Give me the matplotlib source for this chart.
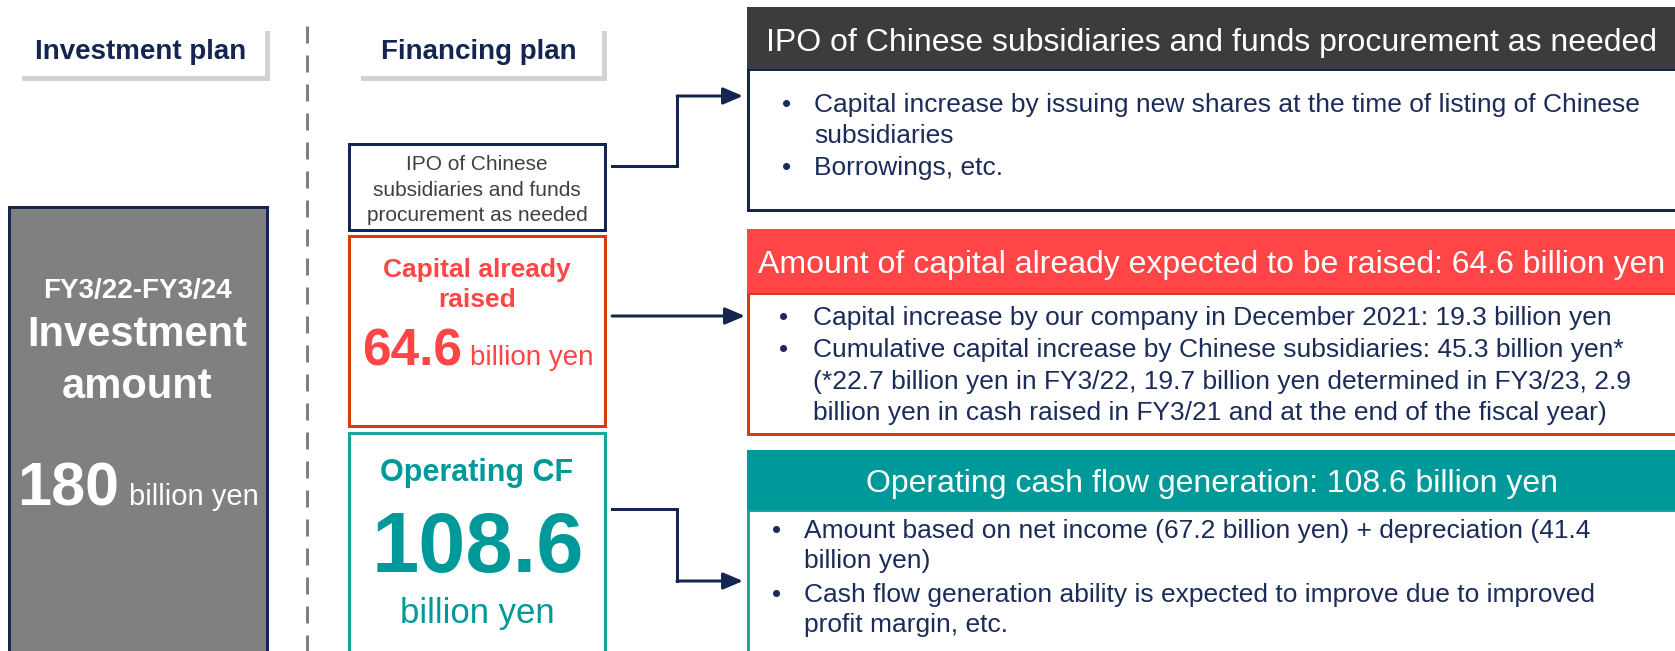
import matplotlib
matplotlib.use("Agg")
import matplotlib.pyplot as plt
from matplotlib.patches import Rectangle

plt.rcParams['font.family'] = ['Liberation Sans', 'DejaVu Sans']
plt.rcParams['lines.scale_dashes'] = False

# Суммы (млрд иен)
investment_total = 180
raised_total = 64.6
op_cf_total = 108.6
period = "FY3/22-FY3/24"

column_titles = ["Investment plan", "Financing plan"]
ipo_small = ["IPO of Chinese", "subsidiaries and funds", "procurement as needed"]
raised_label = ["Capital already", "raised"]
op_label = "Operating CF"

headers = ["IPO of Chinese subsidiaries and funds procurement as needed",
           f"Amount of capital already expected to be raised: {raised_total} billion yen",
           f"Operating cash flow generation: {op_cf_total} billion yen"]

# (текст, есть ли маркер)
ipo_lines = [("Capital increase by issuing new shares at the time of listing of Chinese", True),
             ("subsidiaries", False),
             ("Borrowings, etc.", True)]
raised_lines = [("Capital increase by our company in December 2021: 19.3 billion yen", True),
                ("Cumulative capital increase by Chinese subsidiaries: 45.3 billion yen*", True),
                ("(*22.7 billion yen in FY3/22, 19.7 billion yen determined in FY3/23, 2.9", False),
                ("billion yen in cash raised in FY3/21 and at the end of the fiscal year)", False)]
op_lines = [("Amount based on net income (67.2 billion yen) + depreciation (41.4", True),
            ("billion yen)", False),
            ("Cash flow generation ability is expected to improve due to improved", True),
            ("profit margin, etc.", False)]

navy = '#14254f'
text_navy = '#1c2c5a'
red = '#ff4545'
red_edge = '#d63c10'
teal = '#009999'
teal_edge = '#1aa39f'
dark = '#3c3c3c'
gray = '#808080'

fig = plt.figure(figsize=(16.75, 6.51), dpi=100)
ax = fig.add_axes([0, 0, 1, 1])
ax.set_xlim(0, 1675)
ax.set_ylim(651, 0)
ax.axis('off')
px = 72 / 100  # пиксели -> пункты

# заголовки колонок с тенью
for x0, x1, title in [(17, 265, column_titles[0]), (356, 602, column_titles[1])]:
    ax.add_patch(Rectangle((x0 + 5, 31), x1 - x0, 50, fc='#d2d2d2', ec='none'))
    ax.add_patch(Rectangle((x0, 26), x1 - x0, 50, fc='white', ec='none'))
    ax.text((x0 + x1) / 2, 59, title, ha='center', va='baseline', fontsize=20,
            fontweight='bold', color=navy)

# пунктир
ax.plot([307, 307], [26, 655], color=gray, lw=3 * px, dashes=(17 * px, 12 * px))

# блок инвестиций
ax.add_patch(Rectangle((9, 207), 258, 470, fc=gray, ec=navy, lw=3 * px))
ax.text(137, 298, period, ha='center', va='baseline', fontsize=20, fontweight='bold', color='white')
ax.text(137, 346, "Investment", ha='center', va='baseline', fontsize=30, fontweight='bold', color='white')
ax.text(137, 398, "amount", ha='center', va='baseline', fontsize=30, fontweight='bold', color='white')
ax.text(119, 505, f"{investment_total}", ha='right', va='baseline', fontsize=44, fontweight='bold', color='white')
ax.text(129, 505, "billion yen", ha='left', va='baseline', fontsize=21, color='white')

# блоки финансирования
ax.add_patch(Rectangle((349, 144), 256, 86, fc='white', ec=navy, lw=3 * px))
for y, s in zip([170, 196, 221], ipo_small):
    ax.text(477, y, s, ha='center', va='baseline', fontsize=15, color='#404040')

ax.add_patch(Rectangle((349, 236), 256, 190, fc='white', ec=red_edge, lw=3 * px))
ax.text(477, 277, raised_label[0], ha='center', va='baseline', fontsize=19, fontweight='bold', color=red)
ax.text(477, 307, raised_label[1], ha='center', va='baseline', fontsize=19, fontweight='bold', color=red)
ax.text(462, 365, f"{raised_total}", ha='right', va='baseline', fontsize=37, fontweight='bold', color=red)
ax.text(470, 365, "billion yen", ha='left', va='baseline', fontsize=20, color=red)

ax.add_patch(Rectangle((349, 433), 256, 240, fc='white', ec=teal_edge, lw=3 * px))
ax.text(477, 481, op_label, ha='center', va='baseline', fontsize=22, fontweight='bold', color=teal)
ax.text(478, 572, f"{op_cf_total}", ha='center', va='baseline', fontsize=61, fontweight='bold',
        color=teal)
ax.text(477, 623, "billion yen", ha='center', va='baseline', fontsize=25, color=teal)

# стрелки
def arrow(points):
    xs = [p[0] for p in points]
    ys = [p[1] for p in points]
    ax.plot(xs[:-1], ys[:-1], color=navy, lw=3 * px, solid_joinstyle='miter')
    ax.annotate('', xy=points[-1], xytext=points[-2],
                arrowprops=dict(arrowstyle='-|>,head_length=0.4,head_width=0.17',
                                mutation_scale=30, lw=3 * px, color=navy,
                                shrinkA=0, shrinkB=0))

arrow([(612, 166), (677, 166), (677, 96), (743, 96)])
arrow([(612, 316), (745, 316)])
arrow([(612, 509), (677, 509), (677, 581), (743, 581)])

# правые блоки
def panel(top, head_bot, bot, head_color, edge, title, title_base, lines, bx, tx, bases):
    ax.add_patch(Rectangle((748, head_bot), 940, bot - head_bot, fc='white', ec=edge, lw=3 * px))
    ax.add_patch(Rectangle((747, top), 940, head_bot - top, fc=head_color, ec='none'))
    ax.text(1212, title_base, title, ha='center', va='baseline', fontsize=23, color='white')
    for (s, bullet), y in zip(lines, bases):
        if bullet:
            ax.text(bx, y, "•", ha='left', va='baseline', fontsize=19, color=text_navy)
        ax.text(tx, y, s, ha='left', va='baseline', fontsize=19, color=text_navy)

panel(7, 69, 210, dark, navy, headers[0], 51, ipo_lines, 782, 814, [112, 143, 175])
panel(229, 293, 434, red, red_edge, headers[1], 273, raised_lines, 779, 813, [325, 357, 389, 420])
panel(450, 510, 680, teal, teal_edge, headers[2], 492, op_lines, 772, 804, [538, 568, 602, 632])

fig.savefig('out.png', dpi=100)
